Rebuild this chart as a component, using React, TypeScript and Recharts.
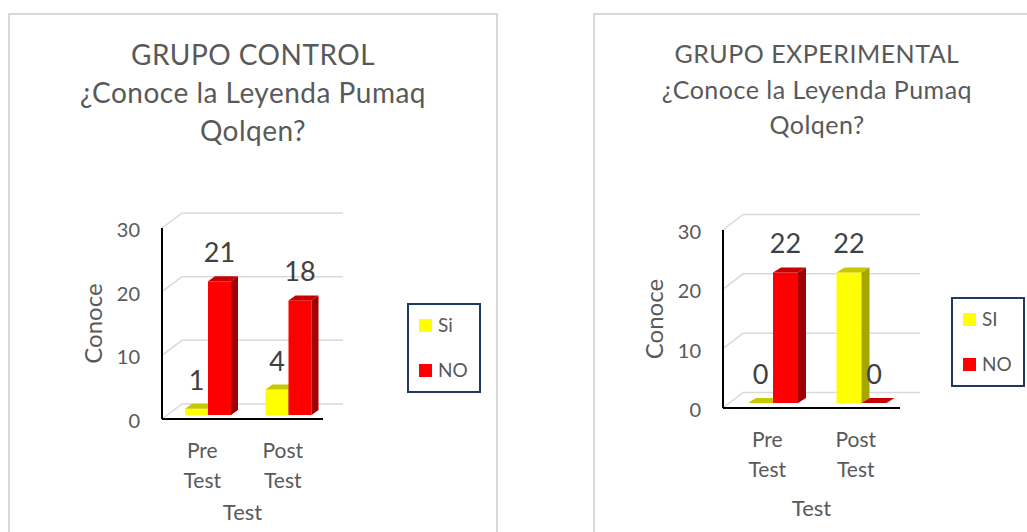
import { Bar, BarChart, CartesianGrid, Label, LabelList, Legend, XAxis, YAxis } from 'recharts'

const categories = ['Pre Test', 'Post Test']
const controlSi = [1, 4]
const controlNo = [21, 18]
const experimentalSi = [0, 22]
const experimentalNo = [22, 0]
const yTicks = [0, 10, 20, 30]
const seriesOrder = ['si', 'no']

const FONT = 'Lato, "Open Sans", sans-serif'
const TEXT = '#595959'
const SI_COLORS = { front: '#FFFF00', top: '#C8C800', side: '#A6A600' }
const NO_COLORS = { front: '#FF0000', top: '#C80000', side: '#A00000' }

type Cfg = {
  title: string[]
  siName: string
  si: number[]
  no: number[]
  left: number
  width: number
  plot: { x1: number; x2: number; y1: number; y2: number }
  barSize: number
  shift: number
  lift: number
  dx: number
  dy: number
  gdx: number
  gdy: number
  legend: { left: number; top: number }
  xTitleDy: number
  panel: { left: number; width: number }
  titleFont: number
  titleLine: number
  titleTop: number
  titleCenter: number
}

const control: Cfg = {
  title: ['GRUPO CONTROL', '¿Conoce la Leyenda Pumaq', 'Qolqen?'],
  siName: 'Si',
  si: controlSi,
  no: controlNo,
  left: 0,
  width: 500,
  plot: { x1: 162, x2: 323, y1: 228, y2: 419 },
  barSize: 23,
  shift: 6,
  lift: 4,
  dx: 7,
  dy: 5,
  gdx: 20,
  gdy: 15,
  legend: { left: 407, top: 303 },
  xTitleDy: 101,
  panel: { left: 8, width: 490 },
  titleFont: 28,
  titleLine: 38,
  titleTop: 35,
  titleCenter: 253,
}

const experimental: Cfg = {
  title: ['GRUPO EXPERIMENTAL', '¿Conoce la Leyenda Pumaq', 'Qolqen?'],
  siName: 'SI',
  si: experimentalSi,
  no: experimentalNo,
  left: 580,
  width: 447,
  plot: { x1: 723, x2: 900, y1: 230, y2: 408 },
  barSize: 25,
  shift: 6,
  lift: 5,
  dx: 8,
  dy: 5,
  gdx: 20,
  gdy: 15.5,
  legend: { left: 951, top: 297 },
  xTitleDy: 107.5,
  panel: { left: 593, width: 460 },
  titleFont: 25,
  titleLine: 35.5,
  titleTop: 36,
  titleCenter: 817,
}

const bar3d = (colors: typeof SI_COLORS, c: Cfg) => (props: any) => {
  const { x, y, width } = props
  const h = Math.max(props.height || 0, 0)
  const fx = x + c.shift
  const fy = y - c.lift
  const { dx, dy } = c
  return (
    <g>
      <rect x={fx} y={fy} width={width} height={h} fill={colors.front} />
      <polygon
        points={`${fx},${fy} ${fx + dx},${fy - dy} ${fx + width + dx},${fy - dy} ${fx + width},${fy}`}
        fill={colors.top}
      />
      <polygon
        points={`${fx + width},${fy} ${fx + width + dx},${fy - dy} ${fx + width + dx},${fy + h - dy} ${fx + width},${fy + h}`}
        fill={colors.side}
      />
    </g>
  )
}

const valueLabel = (c: Cfg) => (props: any) => {
  const vb = props.viewBox ?? props
  const { x, y, width } = vb
  return (
    <text
      x={x + c.shift + width / 2}
      y={y - c.lift - 19}
      textAnchor="middle"
      fontSize={27}
      fill="#404040"
      fontFamily={FONT}
    >
      {props.value}
    </text>
  )
}

const gridLine = (c: Cfg) => (props: any) => {
  const { x1, y1, x2 } = props
  return (
    <path
      key={`g-${y1}`}
      d={`M${x1},${y1} L${x1 + c.gdx},${y1 - c.gdy} L${x2 + c.gdx},${y1 - c.gdy}`}
      stroke="#D9D9D9"
      strokeWidth={1.5}
      fill="none"
    />
  )
}

const legendBox = (props: any) => {
  const items = [...(props.payload ?? [])].sort(
    (a: any, b: any) => seriesOrder.indexOf(a.dataKey) - seriesOrder.indexOf(b.dataKey),
  )
  return (
    <div
      style={{
        position: 'relative',
        width: 74,
        height: 90,
        border: '2px solid #1F3864',
        boxSizing: 'border-box',
        background: '#fff',
      }}
    >
      {items.map((e: any, i: number) => (
        <div
          key={e.value}
          style={{ position: 'absolute', left: 10, top: 9 + i * 45, height: 22, display: 'flex', alignItems: 'center' }}
        >
          <span style={{ width: 13, height: 13, background: e.color, display: 'inline-block' }} />
          <span style={{ marginLeft: 6, fontSize: 19, color: TEXT, fontFamily: FONT, lineHeight: '22px' }}>{e.value}</span>
        </div>
      ))}
    </div>
  )
}

const Chart = ({ c }: { c: Cfg }) => {
  const data = categories.map((name, i) => ({ name, si: c.si[i], no: c.no[i] }))
  const h = 532
  const yAxisW = 60
  const xAxisH = 60
  const margin = {
    left: c.plot.x1 - c.left - yAxisW,
    right: c.left + c.width - c.plot.x2,
    top: c.plot.y1,
    bottom: h - c.plot.y2 - xAxisH,
  }
  const midY = (c.plot.y1 + c.plot.y2) / 2
  const midX = (c.plot.x1 + c.plot.x2) / 2 - c.left
  return (
    <div style={{ position: 'absolute', left: c.left, top: 0 }}>
      <BarChart width={c.width} height={h} data={data} margin={margin} barGap={0} barSize={c.barSize}>
        <CartesianGrid vertical={false} horizontal={gridLine(c)} />
        <XAxis
          dataKey="name"
          height={xAxisH}
          tickLine={false}
          tickSize={0}
          axisLine={{ stroke: '#000', strokeWidth: 2 }}
          interval={0}
          tick={(p: any) => {
            const [a, b] = String(p.payload.value).split(' ')
            return (
              <text textAnchor="middle" fontSize={21} fill={TEXT} fontFamily={FONT}>
                <tspan x={p.x} y={c.plot.y2 + 39}>{a}</tspan>
                <tspan x={p.x} y={c.plot.y2 + 68.5}>{b}</tspan>
              </text>
            )
          }}
        >
          <Label
            content={() => (
              <text x={midX} y={c.plot.y2 + c.xTitleDy} textAnchor="middle" fontSize={22} fill={TEXT} fontFamily={FONT}>
                Test
              </text>
            )}
          />
        </XAxis>
        <YAxis
          width={yAxisW}
          domain={[0, 30]}
          ticks={yTicks}
          tickLine={false}
          tickSize={0}
          tickMargin={22}
          axisLine={{ stroke: '#000', strokeWidth: 2 }}
          tick={(p: any) => (
            <text x={p.x} y={p.y + 2} dy="0.355em" textAnchor="end" fontSize={20} fill={TEXT} fontFamily={FONT}>
              {p.payload.value}
            </text>
          )}
        >
          <Label
            content={() => {
              const bx = c.plot.x1 - c.left - 60
              return (
                <text
                  x={bx}
                  y={midY}
                  transform={`rotate(-90 ${bx} ${midY})`}
                  textAnchor="middle"
                  fontSize={24}
                  fill={TEXT}
                  fontFamily={FONT}
                >
                  Conoce
                </text>
              )
            }}
          />
        </YAxis>
        <Legend
          layout="horizontal"
          verticalAlign="middle"
          align="center"
          content={legendBox}
          wrapperStyle={{ left: c.legend.left - c.left, top: c.legend.top, width: 74, height: 90 }}
        />
        <Bar dataKey="si" name={c.siName} fill={SI_COLORS.front} shape={bar3d(SI_COLORS, c)} isAnimationActive={false}>
          <LabelList dataKey="si" content={valueLabel(c)} />
        </Bar>
        <Bar dataKey="no" name="NO" fill={NO_COLORS.front} shape={bar3d(NO_COLORS, c)} isAnimationActive={false}>
          <LabelList dataKey="no" content={valueLabel(c)} />
        </Bar>
      </BarChart>
    </div>
  )
}

const Panel = ({ c }: { c: Cfg }) => (
  <>
    <div
      style={{
        position: 'absolute',
        left: c.panel.left,
        top: 13,
        width: c.panel.width,
        height: 600,
        border: '2px solid #D9D9D9',
        boxSizing: 'border-box',
      }}
    />
    <div
      style={{
        position: 'absolute',
        left: c.titleCenter - 250,
        width: 500,
        top: c.titleTop,
        textAlign: 'center',
        fontFamily: FONT,
        fontSize: c.titleFont,
        lineHeight: `${c.titleLine}px`,
        letterSpacing: 0.5,
        color: TEXT,
      }}
    >
      {c.title.map((t) => (
        <div key={t}>{t}</div>
      ))}
    </div>
    <Chart c={c} />
  </>
)

export default function App() {
  return (
    <div
      style={{
        position: 'fixed',
        left: 0,
        top: 0,
        width: 1027,
        height: 532,
        overflow: 'hidden',
        background: '#fff',
      }}
    >
      <Panel c={control} />
      <Panel c={experimental} />
    </div>
  )
}
